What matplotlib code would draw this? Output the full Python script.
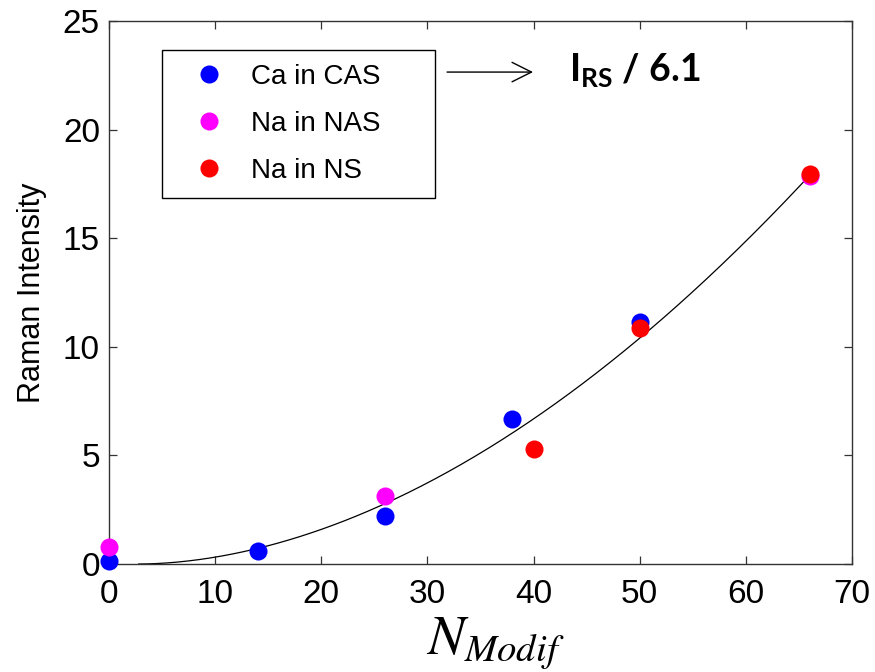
import numpy as np
import matplotlib
matplotlib.use("Agg")
import matplotlib.pyplot as plt

# Raman intensity vs number of modifier cations
ca_cas_x = [0, 14, 26, 38, 50]
ca_cas_y = [0.14, 0.6, 2.2, 6.66, 11.15]

na_nas_x = [0, 26, 66]
na_nas_y = [0.8, 3.15, 17.85]

na_ns_x = [40, 50, 66]
na_ns_y = [5.3, 10.85, 17.96]

# power-law fit  I = A * (N - N0)^B
fit_a = 0.00807
fit_b = 1.858
fit_n0 = 2.8
fit_nmax = 66

x_ticks = [0, 10, 20, 30, 40, 50, 60, 70]
y_ticks = [0, 5, 10, 15, 20, 25]

plt.rcParams["font.family"] = ["Liberation Sans", "DejaVu Sans"]
plt.rcParams["mathtext.bf"] = "Lato:bold"

fig = plt.figure(figsize=(8.75, 6.72), dpi=100)
ax = fig.add_axes([0.1246, 0.1607, 0.8491, 0.8080])

nfit = np.linspace(fit_n0, fit_nmax, 300)
ax.plot(nfit, fit_a * (nfit - fit_n0) ** fit_b, color="black", lw=0.9, zorder=2)

ms = 13
ax.plot(ca_cas_x, ca_cas_y, "o", color="#0000FF", ms=ms, mec="none",
        label="Ca in CAS", clip_on=False, zorder=3)
ax.plot(na_nas_x, na_nas_y, "o", color="#FF00FF", ms=ms, mec="none",
        label="Na in NAS", clip_on=False, zorder=4)
ax.plot(na_ns_x, na_ns_y, "o", color="#FF0000", ms=ms, mec="none",
        label="Na in NS", clip_on=False, zorder=5)

ax.set_xlim(0, 70)
ax.set_ylim(0, 25)
ax.set_xticks(x_ticks)
ax.set_yticks(y_ticks)
ax.tick_params(direction="in", length=5.5, width=0.9, color="#333333",
               top=True, right=True, labelsize=24, labelcolor="black")
ax.tick_params(axis="x", pad=10.5)
ax.tick_params(axis="y", pad=6.5)
for s in ax.spines.values():
    s.set_color("#333333")
    s.set_linewidth(1.0)

ax.set_ylabel("Raman Intensity", fontsize=22)
ax.yaxis.set_label_coords(-0.084, 0.5)
ax.set_xlabel(r"$N_{Modif}$", fontsize=40, math_fontfamily="stix")
ax.xaxis.set_label_coords(0.52, -0.095)

leg = ax.legend(loc="upper left", bbox_to_anchor=(0.0713, 0.0, 0.3674, 0.9466),
                mode="expand", borderaxespad=0, fontsize=20, frameon=True,
                fancybox=False, edgecolor="black", framealpha=1,
                handlelength=2.4, handletextpad=0.3, borderpad=0.5,
                labelspacing=0.76, numpoints=1)
leg.get_frame().set_linewidth(1.0)

ax.annotate("", xy=(39.95, 22.65), xytext=(31.85, 22.65),
            arrowprops=dict(arrowstyle="->,head_length=1.4,head_width=0.7",
                            mutation_scale=10, lw=1.0, color="black",
                            shrinkA=0, shrinkB=0))
ax.text(43.3, 22.2, r"$\mathbf{I}_{\mathbf{RS}}$ / 6.1", fontsize=27,
        family="Lato", weight="bold", math_fontfamily="custom",
        ha="left", va="baseline")

fig.savefig("out.png", dpi=100)
